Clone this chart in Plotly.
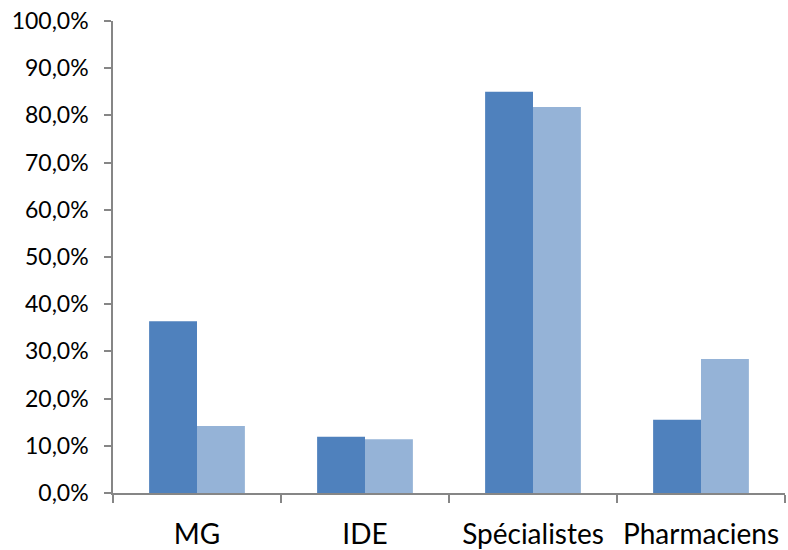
import plotly.graph_objects as go

categories = ["MG", "IDE", "Spécialistes", "Pharmaciens"]
series_a = [36.4, 11.9, 85.0, 15.5]
series_b = [14.2, 11.4, 81.8, 28.4]
y_ticks = [0, 10, 20, 30, 40, 50, 60, 70, 80, 90, 100]
y_tick_labels = [f"{v},0%" for v in y_ticks]

fig = go.Figure()
fig.add_trace(go.Bar(x=categories, y=series_a, marker=dict(color="#4F81BD", line=dict(width=0)), showlegend=False))
fig.add_trace(go.Bar(x=categories, y=series_b, marker=dict(color="#95B3D7", line=dict(width=0)), showlegend=False))

fig.update_layout(
    width=788, height=550,
    margin=dict(l=113, r=3, t=21, b=57),
    paper_bgcolor="white", plot_bgcolor="white",
    barmode="group", bargap=0.43, bargroupgap=0,
    font=dict(family="Lato, Open Sans, sans-serif", color="#000000"),
)
fig.update_xaxes(
    showline=True, linecolor="#868686", linewidth=1.5,
    ticks="outside", tickson="boundaries", ticklen=8, tickcolor="#868686", tickwidth=1.5,
    tickfont=dict(size=28), showgrid=False, ticklabelstandoff=16, automargin=False,
    ticklabeloverflow="allow",
)
fig.update_yaxes(
    range=[0, 100], tickvals=y_ticks, ticktext=y_tick_labels,
    showline=True, linecolor="#868686", linewidth=1.5,
    ticks="outside", ticklen=7, tickcolor="#868686", tickwidth=1.5,
    tickfont=dict(size=23), showgrid=False, zeroline=False, ticklabelstandoff=11, automargin=False,
    ticklabeloverflow="allow",
)
fig.write_html("out.html", config={"displayModeBar": False},
               post_script="document.body.style.margin='0';")
